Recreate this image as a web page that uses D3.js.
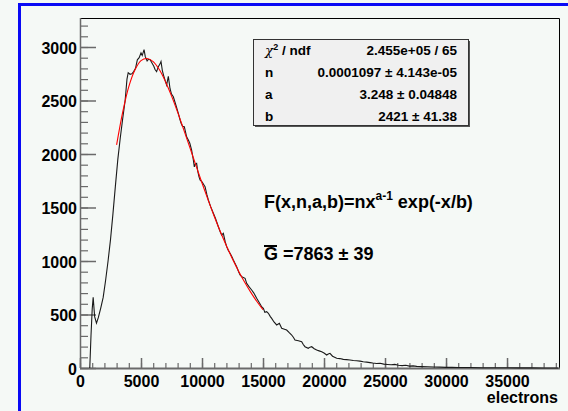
<!DOCTYPE html>
<html>
<head>
<meta charset="utf-8">
<script src="https://cdn.jsdelivr.net/npm/d3@7"></script>
<style>
  html, body { margin: 0; padding: 0; background: #f5f9f6; }
  svg { display: block; }
  text { font-family: "Liberation Sans", Arial, Helvetica, sans-serif; font-weight: bold; }
</style>
</head>
<body>
<svg id="chart" width="568" height="411"></svg>
<script>
// ---------------- data ----------------
const histX = [800, 900, 1000, 1080, 1200, 1350, 1500, 1700, 1900, 2100, 2300, 2500, 2700, 2900, 3100, 3300, 3500, 3700, 3850, 3950,
  4100, 4250, 4400, 4550, 4700, 4850, 5000, 5100, 5250, 5350, 5500, 5600, 5750, 5900, 6050, 6150, 6280, 6420, 6550, 6640,
  6750, 6850, 6970, 7100, 7240, 7380, 7500, 7650, 7850, 8060, 8200, 8280, 8400, 8550, 8740, 8880, 9000, 9150, 9290, 9370,
  9450, 9560, 9650, 9750, 9840, 10000, 10250, 10400, 10520, 10700, 10930, 11100, 11340, 11500, 11610, 11750, 11900, 12020, 12150, 12300,
  12450, 12570, 12700, 12840, 13000, 13120, 13300, 13530, 13660, 13850, 14070, 14250, 14480, 14700, 14900, 15030, 15150, 15300, 15440, 15600,
  15710, 15900, 16120, 16340, 16530, 16700, 16940, 17150, 17350, 17500, 17620, 17900, 18170, 18300, 18440, 18710, 18850, 18990, 19200, 19400,
  19600, 19810, 20000, 20220, 20350, 20490, 20700, 21040, 21300, 21580, 21850, 22130, 22400, 22680, 22950, 23220, 23500, 23770, 24000, 24300,
  24600, 24900, 25200, 25500, 25800, 26100, 26400, 26700, 27000, 27300, 27600, 28000, 28500, 29000, 29500, 30000, 30500, 31000, 32000, 33000,
  34000, 35000, 36000, 37000, 38000, 39200];
const histCounts = [0, 300, 550, 660, 480, 420, 470, 560, 660, 820, 1000, 1200, 1440, 1700, 1950, 2150, 2330, 2500, 2700, 2760,
  2745, 2750, 2770, 2800, 2880, 2900, 2945, 2920, 2975, 2910, 2870, 2885, 2880, 2850, 2820, 2790, 2770, 2816, 2840, 2865,
  2780, 2735, 2690, 2645, 2725, 2610, 2560, 2535, 2460, 2380, 2320, 2290, 2260, 2255, 2160, 2131, 2100, 2037, 1944, 1880,
  1905, 1913, 1840, 1788, 1757, 1740, 1694, 1620, 1570, 1510, 1446, 1400, 1320, 1270, 1243, 1259, 1180, 1134, 1100, 1072,
  1040, 1009, 980, 947, 900, 869, 850, 838, 791, 760, 729, 700, 651, 610, 570, 558, 520, 526, 511, 480,
  464, 430, 402, 418, 371, 365, 355, 330, 308, 285, 262, 255, 246, 220, 199, 184, 195, 199, 180, 168,
  160, 152, 140, 121, 130, 137, 110, 91, 88, 81, 78, 75, 70, 68, 64, 59, 55, 50, 46, 42,
  45, 36, 33, 30, 34, 25, 22, 26, 18, 20, 15, 13, 11, 9, 8, 6, 6, 5, 4, 3,
  2, 2, 1, 1, 0, 0];

const fitX = [3000, 3500, 4000, 4500, 5000, 5500, 6000, 6500, 7000, 7500, 8000, 8500, 9000, 9500, 10000, 10500, 11000, 11500, 12000, 12500, 13000, 13500, 14000, 14500, 15000];
const fitY = [2085, 2392, 2630, 2785, 2873, 2893, 2864, 2789, 2678, 2543, 2391, 2228, 2062, 1894, 1729, 1571, 1418, 1275, 1142, 1019, 905, 801, 707, 621, 545];

const xMajorTicks = [0, 5000, 10000, 15000, 20000, 25000, 30000, 35000];
const xTickLabels = ["0", "5000", "10000", "15000", "20000", "25000", "30000", "35000"];
const yMajorTicks = [0, 500, 1000, 1500, 2000, 2500, 3000];
const yTickLabels = ["0", "500", "1000", "1500", "2000", "2500", "3000"];
const xTitle = "electrons";

const statsNames = ["ndf", "n", "a", "b"];
const statsValues = ["2.455e+05 / 65", "0.0001097 \u00b1 4.143e-05", "3.248 \u00b1 0.04848", "2421 \u00b1 41.38"];
const meanGainText = "=7863 \u00b1 39";

// ---------------- layout ----------------
const svg = d3.select("#chart");
const L = 80, R = 559, T = 18, B = 368;
const x = d3.scaleLinear().domain([0, 39260]).range([L, R]);
const y = d3.scaleLinear().domain([0, 3271]).range([B, T]);

// blue frame
svg.append("rect").attr("x", 0).attr("y", 0).attr("width", 568).attr("height", 411).attr("fill", "#f5f9f6");
svg.append("path").attr("d", "M19.5,420 V4.5 H575").attr("fill", "none").attr("stroke", "#0a0af5").attr("stroke-width", 3);

// frame top/right
svg.append("path").attr("d", `M${L},${T + 0.5} H${R + 0.5} V${B}`).attr("fill", "none").attr("stroke", "#000").attr("stroke-width", 1);

const axisColor = "#6a6a6a";

// Y axis minor
const yMinor = d3.range(0, 3201, 100);
svg.append("g").attr("transform", `translate(${L},0)`)
  .call(d3.axisLeft(y).tickValues(yMinor).tickSize(-8).tickFormat(""))
  .call(g => g.select(".domain").remove())
  .call(g => g.selectAll("line").attr("stroke", axisColor).attr("stroke-width", 1.2));
// Y axis major
svg.append("g").attr("transform", `translate(${L},0)`)
  .call(d3.axisLeft(y).tickValues(yMajorTicks).tickSize(-16).tickPadding(3).tickFormat((d, i) => yTickLabels[i]))
  .call(g => g.select(".domain").attr("stroke", axisColor).attr("stroke-width", 1.5).attr("d", `M0.5,${B}V${T}`))
  .call(g => g.selectAll("line").attr("stroke", axisColor).attr("stroke-width", 1.5))
  .call(g => g.selectAll("text").attr("font-size", 16).attr("fill", "#000").attr("dy", "0.4em")
    .attr("font-family", "'Liberation Sans', Arial, sans-serif").attr("font-weight", "bold"));
// X axis minor
const xMinor = d3.range(0, 39001, 1000);
svg.append("g").attr("transform", `translate(0,${B})`)
  .call(d3.axisBottom(x).tickValues(xMinor).tickSize(-5).tickFormat(""))
  .call(g => g.select(".domain").remove())
  .call(g => g.selectAll("line").attr("stroke", axisColor).attr("stroke-width", 1.2));
svg.append("g").attr("transform", `translate(0,${B})`)
  .call(d3.axisBottom(x).tickValues(xMajorTicks).tickSize(-10).tickPadding(4).tickFormat((d, i) => xTickLabels[i]))
  .call(g => g.select(".domain").attr("stroke", axisColor).attr("stroke-width", 2).attr("d", `M${L},0.5H${R + 1}`))
  .call(g => g.selectAll("line").attr("stroke", axisColor).attr("stroke-width", 1.5))
  .call(g => g.selectAll("text").attr("font-size", 16).attr("fill", "#000").attr("dy", "0.95em")
    .attr("font-family", "'Liberation Sans', Arial, sans-serif").attr("font-weight", "bold"));

svg.append("text").attr("x", 558).attr("y", 403).attr("text-anchor", "end").attr("font-size", 16).text(xTitle);

// histogram
const histData = histX.map((v, i) => [v, histCounts[i]]);
svg.append("path").datum(histData)
  .attr("fill", "none").attr("stroke", "#1a1a1a").attr("stroke-width", 1.1)
  .attr("d", d3.line().x(d => x(d[0])).y(d => y(d[1])));

// fit
const fitData = fitX.map((v, i) => [v, fitY[i]]);
svg.append("path").datum(fitData)
  .attr("fill", "none").attr("stroke", "#ff0000").attr("stroke-width", 1.1)
  .attr("d", d3.line().curve(d3.curveCatmullRom).x(d => x(d[0])).y(d => y(d[1])));

// stats box
const bx = 253, by = 39, bw = 215, bh = 86;
svg.append("rect").attr("x", bx + 2).attr("y", by + 2).attr("width", bw).attr("height", bh).attr("fill", "#555");
svg.append("rect").attr("x", bx + 0.5).attr("y", by + 0.5).attr("width", bw).attr("height", bh)
  .attr("fill", "#f0f0f0").attr("stroke", "#333").attr("stroke-width", 1);
const rowBase = [55, 77, 99, 121];
statsNames.forEach((nm, i) => {
  const t = svg.append("text").attr("x", 265).attr("y", rowBase[i]).attr("font-size", 13.5);
  if (i === 0) {
    t.append("tspan").attr("font-weight", "normal").attr("font-family", "'DejaVu Serif', serif").attr("font-style", "italic").text("\u03c7");
    t.append("tspan").attr("font-size", 9).attr("dy", -5).text("2");
    t.append("tspan").attr("dy", 5).text(" / " + nm);
  } else {
    t.text(nm);
  }
  svg.append("text").attr("x", 457).attr("y", rowBase[i]).attr("text-anchor", "end").attr("font-size", 13.5).text(statsValues[i]);
});

// formula
const f = svg.append("text").attr("x", 264).attr("y", 208).attr("font-size", 18);
f.append("tspan").text("F(x,n,a,b)=nx");
f.append("tspan").attr("font-size", 12).attr("dy", -8).text("a-1");
f.append("tspan").attr("dy", 8).text(" exp(-x/b)");

// mean gain
svg.append("text").attr("x", 264).attr("y", 260).attr("font-size", 18).text("G");
svg.append("line").attr("x1", 264).attr("x2", 277).attr("y1", 246).attr("y2", 246).attr("stroke", "#000").attr("stroke-width", 2);
svg.append("text").attr("x", 283).attr("y", 260).attr("font-size", 18).text(meanGainText);
</script>
</body>
</html>
